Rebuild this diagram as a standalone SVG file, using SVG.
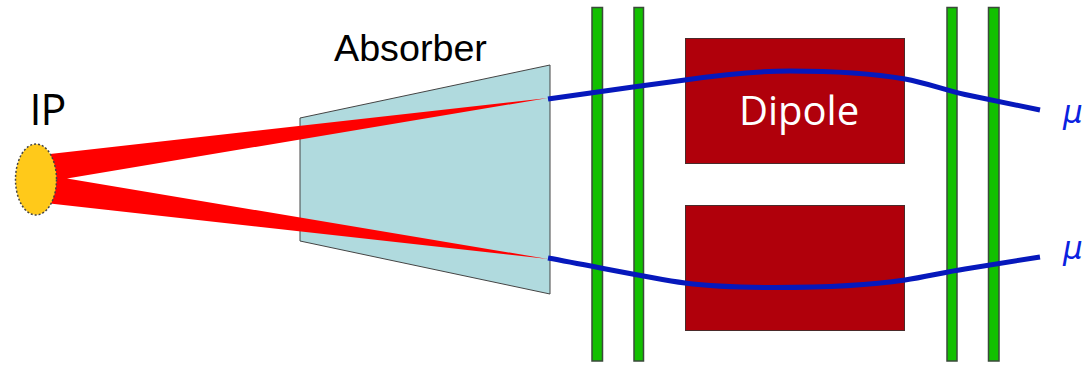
<svg xmlns="http://www.w3.org/2000/svg" width="1090" height="368" viewBox="0 0 1090 368">
<style>
.det{fill:#12c000;stroke:#3a4a3a;stroke-width:1.500}
.mag{fill:#b0000b;stroke:#4a2a2a;stroke-width:1}
.trk{fill:none;stroke:#0618bc;stroke-width:5}
.mu{font-family:"DejaVu Sans","Liberation Sans",sans-serif;font-style:italic;font-size:31px;fill:#0a22e0}
.seg{font-family:"Open Sans","Noto Sans","Liberation Sans",sans-serif}
</style>
<rect width="1090" height="368" fill="#fff"/>
<g id="absorber">
<polygon points="300,118 550,65 550,294 300,241" fill="#b0dade" stroke="#444" stroke-width="1"/>
<text x="334" y="61" font-size="37.700" fill="#000" font-family="'Liberation Sans',Arial,sans-serif">Absorber</text>
</g>
<g id="detectors">
<rect class="det" x="592" y="7.500" width="10.500" height="353.500"/>
<rect class="det" x="634" y="7.500" width="9.500" height="353.500"/>
<rect class="det" x="947" y="7.500" width="10" height="353.500"/>
<rect class="det" x="988.500" y="7.500" width="10.500" height="353.500"/>
</g>
<g id="dipole">
<rect class="mag" x="685.500" y="38.500" width="219" height="125"/>
<rect class="mag" x="685.500" y="205.500" width="219" height="125"/>
<text class="seg" x="799" y="125" font-size="40" text-anchor="middle" fill="#fff">Dipole</text>
</g>
<g id="connectors">
<polygon points="50,154 548,98 67,178.500 548,259 50,203.500" fill="#ff0000"/>
<path class="trk" d="M548,99 C590,93 640,86 685,80 C720,75 755,71 790,71 C835,71 870,73 905,79 C925,82.500 945,90 965,94.500 L1040,110"/>
<path class="trk" d="M548,258 C600,267.500 650,278 685,283 C715,287 745,287.500 775,287.500 C820,287.500 865,286 905,280 C925,277 945,272 965,269 L1040,257"/>
</g>
<g id="ip">
<ellipse cx="36" cy="179.500" rx="20.500" ry="35.500" fill="#ffc91a" stroke="#444" stroke-width="1.500" stroke-dasharray="2 2"/>
<text class="seg" x="29.500" y="125" font-size="43" letter-spacing="-1" fill="#000">IP</text>
</g>
<g id="labels">
<text class="mu" x="1063" y="123">μ</text>
<text class="mu" x="1063" y="259">μ</text>
</g>
</svg>
